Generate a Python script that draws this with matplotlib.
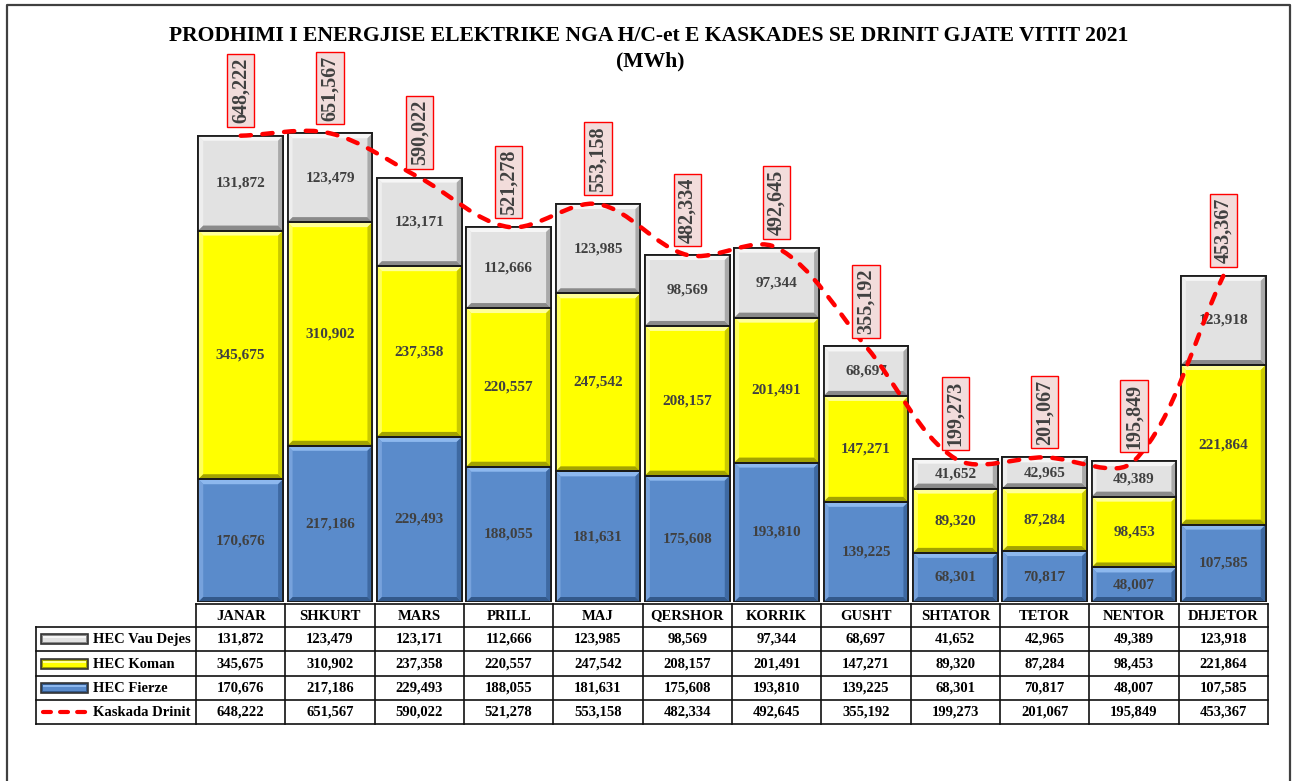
import matplotlib
matplotlib.use('Agg')
import matplotlib.pyplot as plt
import numpy as np
from matplotlib.patches import Polygon, Rectangle, PathPatch
from matplotlib.path import Path
from matplotlib.lines import Line2D

# ---------------- data ----------------
months = ['JANAR', 'SHKURT', 'MARS', 'PRILL', 'MAJ', 'QERSHOR', 'KORRIK',
          'GUSHT', 'SHTATOR', 'TETOR', 'NENTOR', 'DHJETOR']
vau_dejes = [131872, 123479, 123171, 112666, 123985, 98569, 97344, 68697,
             41652, 42965, 49389, 123918]
koman = [345675, 310902, 237358, 220557, 247542, 208157, 201491, 147271,
         89320, 87284, 98453, 221864]
fierze = [170676, 217186, 229493, 188055, 181631, 175608, 193810, 139225,
          68301, 70817, 48007, 107585]
kaskada = [648222, 651567, 590022, 521278, 553158, 482334, 492645, 355192,
           199273, 201067, 195849, 453367]
series_names = ['HEC Vau Dejes', 'HEC Koman', 'HEC Fierze', 'Kaskada Drinit']
title_text = 'PRODHIMI I ENERGJISE ELEKTRIKE NGA H/C-et E KASKADES SE DRINIT GJATE VITIT 2021'
unit_text = '(MWh)'

# ---------------- style ----------------
W, H = 1294, 781
plt.rcParams['font.family'] = ['Liberation Serif', 'DejaVu Serif']
FONT_W = 'bold'
LABEL_C = '#404040'

styles = {
    'gray':   dict(face='#E2E2E2', top='#F6F6F6', left='#EEEEEE', right='#A9A9A9', bottom='#8A8A8A'),
    'yellow': dict(face='#FFFF00', top='#FFFF99', left='#FFFF5C', right='#C9C900', bottom='#A3A300'),
    'blue':   dict(face='#5A8BCB', top='#8DB8EE', left='#77A2DC', right='#3E69A2', bottom='#33598B'),
}

fig = plt.figure(figsize=(W / 100, H / 100), dpi=100)

# main axes: columns from x=196 to 1268 px, baseline at y=602 px
ax_left, ax_right, ax_base = 196, 1268, 602
ymax = 700000
px_per_val = 466.3 / 648222.0
ax_h_px = ymax * px_per_val
ax = fig.add_axes([ax_left / W, (H - ax_base) / H, (ax_right - ax_left) / W, ax_h_px / H])
ax.set_xlim(-0.5, len(months) - 0.5)
ax.set_ylim(0, ymax)
ax.axis('off')

x = np.arange(len(months))
bar_w = 0.95
fz = np.array(fierze)
km = np.array(koman)
vd = np.array(vau_dejes)

stack = [(fz, np.zeros_like(fz), 'blue'),
         (km, fz, 'yellow'),
         (vd, fz + km, 'gray')]

inv = ax.transData.inverted()
d0 = inv.transform((0, 0))
d1 = inv.transform((5, 5))
bx, by = d1[0] - d0[0], d1[1] - d0[1]

for vals, bottoms, key in stack:
    st = styles[key]
    bars = ax.bar(x, vals, bottom=bottoms, width=bar_w, color=st['face'],
                  edgecolor='#1A1A1A', linewidth=1.3, zorder=2)
    for rect, v in zip(bars.patches, vals):
        x0, y0 = rect.get_x(), rect.get_y()
        x1, y1 = x0 + rect.get_width(), y0 + rect.get_height()
        ex, ey = bx, min(by, (y1 - y0) / 2.5)
        polys = [
            ([(x0, y1), (x1, y1), (x1 - ex, y1 - ey), (x0 + ex, y1 - ey)], st['top']),
            ([(x0, y0), (x0, y1), (x0 + ex, y1 - ey), (x0 + ex, y0 + ey)], st['left']),
            ([(x1, y0), (x1, y1), (x1 - ex, y1 - ey), (x1 - ex, y0 + ey)], st['right']),
            ([(x0, y0), (x1, y0), (x1 - ex, y0 + ey), (x0 + ex, y0 + ey)], st['bottom']),
        ]
        for pts, c in polys:
            ax.add_patch(Polygon(pts, closed=True, facecolor=c, edgecolor='none', zorder=2.1))
        ax.add_patch(Rectangle((x0, y0), x1 - x0, y1 - y0, fill=False,
                               edgecolor='#1A1A1A', linewidth=1.3, zorder=2.2))
        ax.text(x0 + (x1 - x0) / 2, y0 + (y1 - y0) / 2, f'{v:,}', ha='center', va='center',
                fontsize=11, fontweight=FONT_W, color=LABEL_C, zorder=3)

# smoothed total line: Bezier through the data points, control arms scaled by
# neighbouring segment lengths in screen space (spreadsheet-style smoothing)
ys = np.array(kaskada, dtype=float)
n = len(ys)
P = ax.transData.transform(np.column_stack([x.astype(float), ys]))
tension = 1.0 / 3.0
verts_px = [P[0]]
codes = [Path.MOVETO]
def ctrl(i):
    prev = P[max(i - 1, 0)]
    nxt = P[min(i + 1, n - 1)]
    T = nxt - prev
    da = np.hypot(*(P[i] - prev))
    db = np.hypot(*(nxt - P[i]))
    s = da + db
    if s == 0:
        return P[i], P[i]
    c_in = P[i] - T * tension * da / s
    c_out = P[i] + T * tension * db / s
    return c_in, c_out
for i in range(n - 1):
    _, c1 = ctrl(i)
    c2, _ = ctrl(i + 1)
    verts_px += [c1, c2, P[i + 1]]
    codes += [Path.CURVE4] * 3
verts = ax.transData.inverted().transform(np.array(verts_px))
line = PathPatch(Path(verts, codes), fill=False, edgecolor='#FF0000', linewidth=3.2,
                 linestyle=(0, (2.3, 2.6)), zorder=4)
line.set_capstyle('round')
ax.add_patch(line)

for xi, v in zip(x, kaskada):
    ax.annotate(f'{v:,}', xy=(xi, v), xytext=(0, 9), textcoords='offset points',
                rotation=90, ha='center', va='bottom', fontsize=14.5, fontweight=FONT_W,
                color=LABEL_C, zorder=5,
                bbox=dict(boxstyle='square,pad=0.18', facecolor='#F2DCDB',
                          edgecolor='#FF0000', linewidth=1.0))

# ---------------- title ----------------
fig.text(649 / W, 1 - 36 / H, title_text, ha='center', va='center', fontsize=15.6,
         fontweight='bold', color='black')
fig.text(650 / W, 1 - 61 / H, unit_text, ha='center', va='center', fontsize=15.6,
         fontweight='bold', color='black')

# ---------------- data table ----------------
tab_left, tab_top, tab_bot = 36, 604, 724
row_edges = [604, 627, 651, 676, 700, 724]
px_per_cat = (ax_right - ax_left) / len(months)
x_left = -0.5 - (ax_left - tab_left) / px_per_cat
tax = fig.add_axes([tab_left / W, (H - tab_bot) / H, (ax_right - tab_left) / W,
                    (tab_bot - tab_top) / H])
tax.set_xlim(x_left, len(months) - 0.5)
tax.set_ylim(tab_bot, tab_top)
tax.axis('off')

lc = '#111111'
lw = 1.2
tax.add_line(Line2D([-0.5, len(months) - 0.5], [row_edges[0]] * 2, color=lc, lw=lw, clip_on=False))
for yy in row_edges[1:]:
    tax.add_line(Line2D([x_left, len(months) - 0.5], [yy, yy], color=lc, lw=lw, clip_on=False))
tax.add_line(Line2D([x_left, x_left], [row_edges[1], row_edges[-1]], color=lc, lw=lw, clip_on=False))
for k in range(len(months) + 1):
    xx = -0.5 + k
    tax.add_line(Line2D([xx, xx], [row_edges[0], row_edges[-1]], color=lc, lw=lw, clip_on=False))

def rc(r):
    return (row_edges[r] + row_edges[r + 1]) / 2.0

for i, m in enumerate(months):
    tax.text(i, rc(0) + 0.5, m, ha='center', va='center', fontsize=10.5, fontweight='bold', color='black')

table_rows = [vau_dejes, koman, fierze, kaskada]
for r, vals in enumerate(table_rows):
    for i, v in enumerate(vals):
        tax.text(i, rc(r + 1) + 0.5, f'{v:,}', ha='center', va='center', fontsize=10.5,
                 fontweight='bold', color='black')

sw_x0 = x_left + 5 / px_per_cat
sw_x1 = x_left + 52 / px_per_cat
txt_x = x_left + 57 / px_per_cat
swatch_keys = ['gray', 'yellow', 'blue']
for r, name in enumerate(series_names):
    yc = rc(r + 1)
    if r < 3:
        st = styles[swatch_keys[r]]
        tax.add_patch(Rectangle((sw_x0, yc - 5), sw_x1 - sw_x0, 10, facecolor=st['bottom'],
                                edgecolor='#333333', linewidth=1.2, zorder=2))
        tax.add_patch(Rectangle((sw_x0 + 2 / px_per_cat, yc - 3), sw_x1 - sw_x0 - 4 / px_per_cat, 6,
                                facecolor=st['face'], edgecolor='none', zorder=2.1))
        tax.add_patch(Rectangle((sw_x0 + 2 / px_per_cat, yc - 3), sw_x1 - sw_x0 - 4 / px_per_cat, 2,
                                facecolor=st['top'], edgecolor='none', zorder=2.2))
    else:
        ln = Line2D([sw_x0 + 2 / px_per_cat, sw_x1 - 2 / px_per_cat], [yc, yc], color='#FF0000',
                    lw=3, linestyle=(0, (1.9, 2.2)), dash_capstyle='round', zorder=2)
        tax.add_line(ln)
    tax.text(txt_x, yc + 0.5, name, ha='left', va='center', fontsize=10.5,
             fontweight='bold', color='black')

# ---------------- outer frame ----------------
fig.add_artist(Line2D([7 / W, 7 / W, 1290 / W, 1290 / W], [-0.05, 1 - 5 / H, 1 - 5 / H, -0.05],
                      transform=fig.transFigure, color='#404040', lw=1.6))

fig.savefig('out.png', dpi=100)
